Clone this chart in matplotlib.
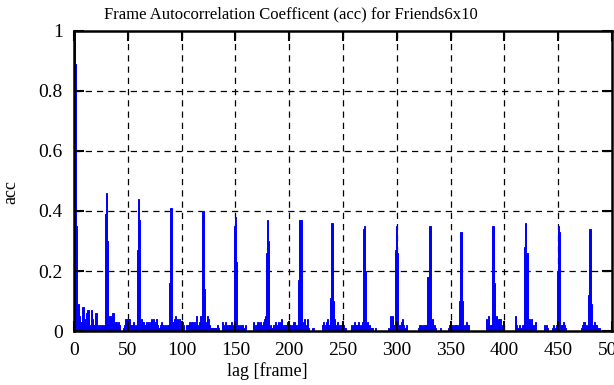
import numpy as np
import matplotlib
matplotlib.use("Agg")
import matplotlib.pyplot as plt

# background acc level per lag, in hundredths, one row per 30-lag block
bg_blocks = [
    [0, 0, 0, 2, 9, 5, 3, 3, 8, 8, 4, 2, 6, 7, 2, 1, 7, 4, 2, 2, 6, 6, 2, 1, 2, 1, 2, 1, 2, 0],
    [0, 0, 2, 5, 5, 4, 6, 6, 2, 3, 2, 3, 2, 0, 0, 0, 1, 2, 4, 4, 4, 4, 4, 2, 2, 3, 2, 1, 2, 0],
    [0, 0, 2, 4, 3, 3, 2, 3, 1, 3, 1, 3, 4, 3, 4, 2, 3, 4, 2, 1, 2, 3, 2, 2, 1, 2, 1, 2, 2, 0],
    [0, 0, 3, 4, 5, 3, 4, 2, 4, 2, 2, 3, 2, 0, 0, 2, 2, 3, 2, 3, 3, 2, 3, 2, 5, 2, 1, 3, 5, 0],
    [0, 0, 1, 3, 5, 4, 2, 1, 1, 1, 1, 1, 1, 2, 1, 0, 0, 0, 3, 2, 1, 3, 2, 1, 2, 2, 3, 1, 2, 0],
    [0, 0, 1, 2, 1, 2, 1, 2, 1, 2, 0, 0, 0, 0, 0, 0, 0, 3, 2, 1, 2, 3, 2, 3, 1, 2, 3, 4, 5, 0],
    [0, 0, 1, 2, 1, 2, 1, 3, 1, 2, 3, 1, 3, 4, 2, 1, 2, 2, 3, 2, 2, 2, 1, 2, 3, 3, 2, 1, 2, 0],
    [0, 0, 3, 1, 4, 1, 2, 4, 1, 0, 0, 0, 1, 1, 0, 0, 0, 0, 0, 0, 0, 2, 3, 1, 2, 3, 4, 2, 3, 0],
    [0, 0, 4, 2, 1, 3, 2, 1, 2, 2, 2, 1, 1, 0, 0, 0, 0, 0, 2, 1, 2, 3, 2, 2, 3, 2, 1, 2, 3, 0],
    [0, 0, 1, 3, 1, 2, 1, 1, 0, 0, 1, 0, 0, 0, 0, 0, 0, 0, 0, 0, 0, 0, 1, 0, 5, 1, 5, 2, 2, 0],
    [0, 0, 1, 2, 3, 4, 2, 1, 1, 2, 0, 0, 0, 0, 0, 0, 0, 0, 0, 0, 1, 2, 2, 1, 2, 1, 2, 2, 2, 0],
    [0, 0, 2, 4, 1, 2, 1, 0, 0, 0, 0, 1, 0, 0, 0, 0, 0, 0, 1, 2, 2, 1, 2, 1, 2, 2, 1, 2, 2, 0],
    [0, 0, 0, 2, 1, 3, 2, 2, 0, 0, 0, 0, 0, 0, 0, 0, 0, 0, 0, 0, 0, 0, 0, 4, 2, 5, 1, 2, 2, 0],
    [0, 0, 0, 5, 2, 4, 4, 2, 1, 0, 0, 0, 0, 0, 0, 0, 0, 0, 0, 0, 5, 2, 1, 1, 2, 1, 1, 2, 2, 0],
    [0, 0, 0, 4, 2, 4, 2, 2, 0, 3, 0, 0, 0, 0, 0, 0, 0, 2, 1, 2, 1, 0, 0, 0, 0, 1, 2, 1, 2, 0],
    [0, 0, 0, 2, 2, 3, 2, 1, 0, 0, 0, 0, 0, 0, 0, 0, 0, 0, 0, 0, 0, 0, 1, 2, 3, 2, 1, 2, 3, 0],
    [0, 0, 0, 2, 3, 2, 2, 1, 1],
]

# peaks near multiples of 30 frames: first lag of each cluster and its values
peak_start = [0, 29, 59, 89, 119, 149, 179, 209, 238, 269, 299, 329, 358, 389, 419, 449, 478]
peak_vals = [
    [1.0, 0.89, 0.35], [0.39, 0.46, 0.30], [0.27, 0.44, 0.37], [0.16, 0.41, 0.41],
    [0.40, 0.40, 0.14], [0.35, 0.38, 0.23], [0.26, 0.37, 0.30], [0.17, 0.37, 0.37],
    [0.11, 0.36, 0.36, 0.10], [0.34, 0.35, 0.20], [0.27, 0.35, 0.26], [0.18, 0.35, 0.35],
    [0.10, 0.33, 0.33, 0.10], [0.35, 0.35, 0.16], [0.28, 0.36, 0.26], [0.20, 0.35, 0.33],
    [0.12, 0.34, 0.34, 0.09],
]

x_ticks = [0, 50, 100, 150, 200, 250, 300, 350, 400, 450, 500]
y_ticks = [0, 0.2, 0.4, 0.6, 0.8, 1]
y_ticklabels = ["0", "0.2", "0.4", "0.6", "0.8", "1"]

# assemble acc series
acc = np.concatenate([np.array(b, dtype=float) / 100 for b in bg_blocks])
for s, v in zip(peak_start, peak_vals):
    acc[s:s + len(v)] = v
lags = np.arange(len(acc))

plt.rcParams['font.family'] = ['Liberation Serif', 'DejaVu Serif']

fig = plt.figure(figsize=(6.14, 3.85), dpi=100)
ax = fig.add_axes([74 / 614, 54 / 385, 538 / 614, 300 / 385])

# dashed grid behind the bars
for xv in x_ticks[1:-1]:
    ax.axvline(xv, color='black', lw=0.9, ls=(0, (5, 4)), zorder=0.5)
for yv in y_ticks[1:-1]:
    ax.axhline(yv, color='black', lw=0.9, ls=(0, (5, 4)), zorder=0.5)

ax.bar(lags, acc, width=1.0, color='blue', edgecolor='blue', linewidth=0.7, zorder=1)

ax.set_xlim(0, 500)
ax.set_ylim(0, 1)
ax.set_xticks(x_ticks)
ax.set_yticks(y_ticks)
ax.set_yticklabels(y_ticklabels)
ax.tick_params(direction='in', top=True, right=True, length=7, width=1.5,
               labelsize=14)
ax.tick_params(axis='x', pad=8)
ax.tick_params(axis='y', pad=8)
for sp in ax.spines.values():
    sp.set_linewidth(1.8)

ax.set_xlabel('lag [frame]', fontsize=13, labelpad=2, x=0.359)
ax.set_ylabel('acc', fontsize=13, labelpad=14, y=0.463)
ax.set_title('Frame Autocorrelation Coefficent (acc) for Friends6x10',
             fontsize=12, pad=9, x=0.403)

fig.savefig('out.png', dpi=100)
